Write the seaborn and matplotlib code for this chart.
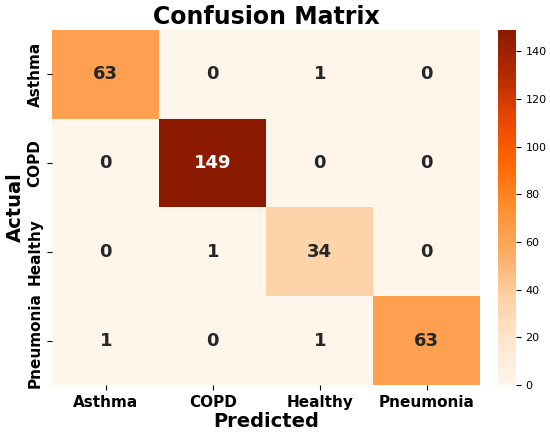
import matplotlib
matplotlib.use("Agg")
import matplotlib.pyplot as plt
from matplotlib.colors import LinearSegmentedColormap
import numpy as np
import seaborn as sns

labels = ["Asthma", "COPD", "Healthy", "Pneumonia"]
row_asthma = [63, 0, 1, 0]
row_copd = [0, 149, 0, 0]
row_healthy = [0, 1, 34, 0]
row_pneumonia = [1, 0, 1, 63]

cm = np.array([row_asthma, row_copd, row_healthy, row_pneumonia])

# Oranges, a bit more saturated like the reference
cmap = LinearSegmentedColormap.from_list(
    "oranges_sat",
    ["#fff5eb", "#fee6cc", "#fdd0a2", "#fdab62", "#ff8f30",
     "#ff6600", "#e84700", "#b32a00", "#8b1a00"])

fig = plt.figure(figsize=(5.5, 4.32), dpi=100)
ax = fig.add_axes([0.095, 0.109, 0.778, 0.822])
cax = fig.add_axes([0.905, 0.109, 0.033, 0.822])
sns.heatmap(cm, annot=True, fmt="d", cmap=cmap, ax=ax, cbar_ax=cax,
            xticklabels=labels, yticklabels=labels,
            annot_kws={"size": 13, "weight": "bold"})
ax.set_title("Confusion Matrix", fontsize=17, fontweight="bold", pad=4)
ax.set_xlabel("Predicted", fontsize=14, fontweight="bold", labelpad=2)
ax.set_ylabel("Actual", fontsize=14, fontweight="bold", labelpad=2)
ax.set_xticklabels(labels, fontsize=11, fontweight="bold")
ax.set_yticklabels(labels, fontsize=11, fontweight="bold", rotation=90, va="center")
cax.tick_params(labelsize=8)

plt.savefig("out.png", dpi=100)
